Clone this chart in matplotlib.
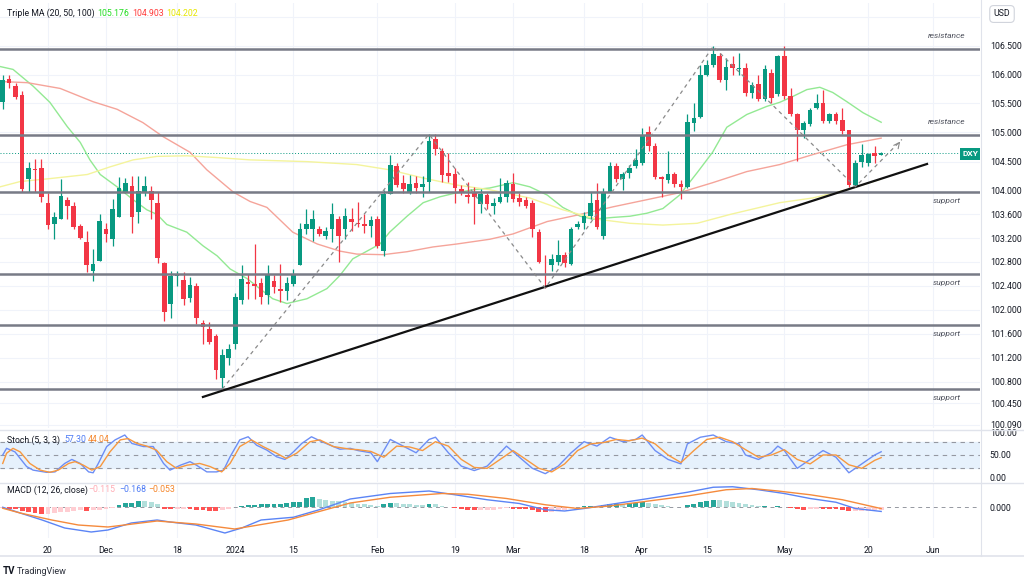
import matplotlib.pyplot as plt
from matplotlib.ticker import FixedLocator, FixedFormatter, NullLocator
import numpy as np
import pandas as pd

plt.rcParams['font.family'] = ['Roboto', 'DejaVu Sans']

# daily DXY candles, 9 Nov 2023 .. 22 May 2024
opens = [105.53, 105.93, 105.80, 105.64, 104.20, 104.37, 104.39, 103.80, 103.44, 103.53,
         103.84, 103.74, 103.41, 103.13, 102.65, 102.82, 103.35, 103.18, 103.55, 103.99,
         104.09, 103.64, 103.97, 104.00, 103.80, 102.78, 102.10, 102.56, 102.49, 102.20,
         102.39, 101.77, 101.67, 101.56, 100.86, 101.20, 101.42, 102.16, 102.46, 102.42,
         102.44, 102.24, 102.48, 102.34, 102.31, 102.43, 102.74, 103.36, 103.36, 103.36,
         103.24, 103.35, 103.52, 103.35, 103.52, 103.46, 103.43, 103.40, 103.52, 102.99,
         103.95, 104.42, 104.13, 103.97, 104.13, 104.06, 104.16, 104.88, 104.68, 104.31,
         104.29, 104.03, 103.93, 103.96, 103.78, 103.93, 103.75, 103.82, 103.90, 104.12,
         103.88, 103.85, 103.80, 103.30, 102.75, 102.74, 102.80, 102.92, 102.77, 103.39,
         103.46, 103.57, 103.84, 103.24, 103.99, 104.43, 104.20, 104.31, 104.42, 104.48,
         105.00, 104.76, 104.24, 104.19, 104.29, 104.12, 104.07, 105.17, 105.26, 106.00,
         106.17, 106.32, 105.91, 106.18, 106.10, 106.12, 105.68, 105.83, 105.57, 106.03,
         105.66, 106.32, 105.63, 105.31, 105.05, 105.15, 105.43, 105.51, 105.19, 105.31,
         105.21, 105.04, 104.10, 104.50, 104.48, 104.64, 104.62]
highs = [106.00, 106.00, 105.86, 105.72, 104.50, 104.55, 104.55, 103.96, 103.65, 104.20,
         103.89, 103.82, 103.43, 103.32, 103.02, 103.60, 103.46, 103.86, 104.24, 104.22,
         104.25, 104.25, 104.26, 104.09, 103.99, 102.79, 102.64, 102.64, 102.62, 102.55,
         102.45, 101.82, 101.79, 101.60, 101.35, 101.43, 102.27, 102.74, 102.60, 103.10,
         102.52, 102.74, 102.57, 102.77, 102.55, 102.68, 103.46, 103.70, 103.68, 103.41,
         103.38, 103.79, 103.57, 103.71, 103.71, 103.82, 103.60, 103.57, 103.57, 104.02,
         104.62, 104.48, 104.28, 104.28, 104.25, 104.26, 104.97, 104.97, 104.74, 104.65,
         104.39, 104.10, 104.16, 104.07, 104.04, 103.96, 103.88, 104.22, 104.19, 104.30,
         103.96, 103.89, 103.85, 103.35, 102.91, 102.93, 103.16, 102.96, 103.39, 103.49,
         103.65, 103.99, 104.13, 104.05, 104.49, 104.48, 104.33, 104.45, 104.72, 105.08,
         105.11, 104.82, 104.25, 104.69, 104.33, 104.19, 105.31, 105.51, 106.17, 106.26,
         106.49, 106.37, 106.29, 106.32, 106.37, 106.20, 105.88, 106.00, 106.17, 106.09,
         106.34, 106.49, 105.77, 105.34, 105.20, 105.43, 105.66, 105.74, 105.34, 105.36,
         105.43, 105.05, 104.52, 104.80, 104.65, 104.76, 104.67]
lows = [105.40, 105.76, 105.58, 103.98, 103.98, 103.99, 103.82, 103.36, 103.18, 103.53,
        103.53, 103.36, 103.18, 102.63, 102.47, 102.82, 103.13, 103.07, 103.55, 103.96,
        103.28, 103.45, 103.92, 103.52, 102.78, 101.80, 101.86, 102.39, 102.07, 102.13,
        101.75, 101.43, 101.42, 100.84, 100.68, 101.07, 101.35, 102.10, 102.18, 102.18,
        102.10, 102.10, 102.27, 102.13, 102.16, 102.40, 102.74, 103.27, 103.15, 103.24,
        103.18, 103.13, 102.79, 103.18, 103.32, 103.38, 103.29, 103.21, 103.04, 102.90,
        103.95, 104.07, 103.96, 103.95, 103.96, 103.89, 103.99, 104.62, 104.16, 104.16,
        103.79, 103.93, 103.79, 103.43, 103.63, 103.70, 103.60, 103.79, 103.82, 103.82,
        103.74, 103.71, 103.21, 102.78, 102.36, 102.65, 102.74, 102.71, 102.75, 103.35,
        103.35, 103.52, 103.35, 103.18, 103.99, 104.16, 104.02, 104.22, 104.39, 104.45,
        104.68, 104.20, 103.90, 104.13, 104.07, 103.87, 104.05, 105.02, 105.25, 105.97,
        106.14, 105.88, 105.74, 106.00, 106.00, 105.63, 105.60, 105.54, 105.54, 105.51,
        105.63, 105.57, 105.28, 104.51, 104.91, 105.11, 105.40, 105.17, 105.17, 105.15,
        104.97, 104.07, 104.07, 104.40, 104.42, 104.48, 104.61]
closes = [105.91, 105.86, 105.62, 104.03, 104.39, 104.36, 103.90, 103.42, 103.55, 103.92,
          103.75, 103.39, 103.20, 102.74, 102.77, 103.49, 103.27, 103.70, 104.05, 104.13,
          103.55, 104.00, 104.09, 103.85, 102.87, 101.96, 102.56, 102.60, 102.17, 102.41,
          101.85, 101.70, 101.46, 100.99, 101.24, 101.35, 102.21, 102.51, 102.43, 102.39,
          102.21, 102.57, 102.37, 102.31, 102.44, 102.60, 103.35, 103.44, 103.53, 103.27,
          103.32, 103.60, 103.23, 103.57, 103.47, 103.43, 103.40, 103.50, 103.06, 103.95,
          104.45, 104.10, 104.03, 104.12, 104.05, 104.12, 104.85, 104.71, 104.28, 104.26,
          104.05, 103.96, 103.89, 103.90, 103.95, 103.78, 103.80, 103.90, 104.14, 103.87,
          103.82, 103.75, 103.35, 102.79, 102.74, 102.85, 102.92, 102.78, 103.36, 103.44,
          103.57, 103.79, 103.38, 103.96, 104.43, 104.20, 104.29, 104.39, 104.53, 104.94,
          104.76, 104.23, 104.20, 104.29, 104.12, 104.07, 105.18, 105.25, 106.00, 106.17,
          106.36, 105.91, 106.14, 106.12, 106.12, 105.68, 105.82, 105.57, 106.09, 105.60,
          106.32, 105.63, 105.31, 105.05, 105.17, 105.38, 105.50, 105.19, 105.31, 105.19,
          105.02, 104.10, 104.48, 104.62, 104.63, 104.60, 104.65]

# moving averages, sampled along the drawn lines (bar index, price)
ma20_x = [-0.4, 1.6, 4.7, 7.3, 10.0, 12.0, 13.5, 15.1, 17.7, 20.2, 22.3, 23.9, 25.4, 28.5,
          31.0, 33.2, 35.2, 37.8, 39.8, 41.8, 44.0, 47.1, 50.2, 52.2, 54.2, 56.4, 58.4,
          59.9, 62.6, 65.1, 67.7, 70.3, 72.8, 75.4, 79.0, 81.6, 84.3, 86.7, 89.4, 91.4,
          94.5, 97.1, 99.7, 102.2, 104.8, 107.5, 109.9, 112.1, 115.2, 118.3, 120.3, 122.3,
          124.5, 126.5, 128.5, 130.7, 133.2, 136.0]
ma20_y = [106.14, 106.09, 105.80, 105.52, 105.10, 104.83, 104.53, 104.28, 104.07, 103.85,
          103.68, 103.60, 103.43, 103.30, 103.07, 102.90, 102.68, 102.52, 102.35, 102.18,
          102.10, 102.18, 102.35, 102.57, 102.85, 102.98, 103.10, 103.30, 103.57, 103.80,
          103.90, 103.97, 104.02, 104.05, 104.14, 104.07, 103.93, 103.72, 103.57, 103.52,
          103.55, 103.57, 103.62, 103.70, 103.93, 104.31, 104.66, 105.09, 105.31, 105.45,
          105.52, 105.62, 105.74, 105.78, 105.69, 105.53, 105.34, 105.176]
ma50_x = [-0.4, 3.8, 8.9, 14.0, 17.7, 21.7, 24.8, 29.0, 31.6, 35.7, 38.3, 40.9, 44.9, 48.7,
          52.2, 54.8, 58.9, 62.6, 66.6, 70.3, 75.4, 79.0, 84.3, 89.4, 94.5, 99.7, 104.8,
          109.9, 115.2, 120.3, 125.4, 130.7, 136.0]
ma50_y = [105.88, 105.86, 105.76, 105.53, 105.40, 105.17, 104.93, 104.66, 104.36, 103.98,
          103.82, 103.72, 103.30, 103.10, 102.98, 102.93, 102.92, 102.97, 103.05, 103.10,
          103.18, 103.27, 103.48, 103.60, 103.73, 103.85, 103.97, 104.14, 104.33, 104.45,
          104.62, 104.79, 104.903]
ma100_x = [-0.4, 2.7, 7.3, 13.1, 16.6, 20.2, 23.9, 28.5, 33.2, 38.3, 47.1, 54.8, 59.9,
           65.1, 70.3, 75.4, 81.6, 86.7, 92.0, 97.1, 102.2, 107.5, 112.6, 120.3, 125.4,
           130.7, 136.0]
ma100_y = [104.07, 104.16, 104.21, 104.28, 104.41, 104.53, 104.59, 104.60, 104.57, 104.53,
           104.50, 104.45, 104.36, 104.22, 104.10, 104.02, 103.88, 103.68, 103.52, 103.45,
           103.42, 103.45, 103.60, 103.80, 103.88, 104.02, 104.202]

# drawings
levels = [106.45, 104.95, 103.98, 102.60, 101.74, 100.68]
level_names = ['resistance', 'resistance', 'support', 'support', 'support', 'support']
trend_x = [31.0, 143.1]
trend_y = [100.55, 104.46]
zigzag_x = [34, 66, 84, 110, 132, 139.2]
zigzag_y = [100.68, 104.97, 102.36, 106.49, 104.07, 104.88]
last_price = 104.65

# Stochastic (5, 3, 3)
k_x = [0, 0.6, 1.9, 3.7, 4.7, 6.8, 8.1, 9.6, 10.7, 12, 13.3, 14, 14.8, 16.1, 17.4, 18.9,
       20, 21.8, 23.3, 24.9, 25.9, 27.5, 29, 30, 31.6, 33.1, 34.2, 35.2, 36.7, 38, 39.3,
       40.9, 42.4, 43.7, 45, 46.3, 47.8, 49.1, 50.7, 52.2, 53.8, 55, 57, 58, 60, 62, 64,
       66, 67, 69, 71, 73, 75, 77, 78, 80, 82, 84, 86, 88, 90, 92, 94, 96, 98, 99, 101,
       103, 105, 106, 108, 110, 112, 114, 115, 117, 119, 120, 121, 123, 125, 127, 129,
       131, 133, 135, 136]
k_y = [50, 65, 57, 24, 16, 11, 12, 31, 40, 31, 12, 10, 31, 69, 84, 95, 76, 69, 69, 31, 16,
       27, 35, 27, 12, 12, 16, 46, 84, 91, 72, 61, 46, 40, 57, 76, 91, 82, 72, 63, 65, 60,
       55, 35, 85, 70, 55, 85, 90, 55, 25, 15, 25, 55, 70, 45, 20, 8, 25, 55, 80, 70, 90,
       80, 85, 95, 60, 40, 30, 75, 90, 95, 80, 75, 50, 40, 55, 70, 60, 20, 40, 60, 45, 10,
       30, 50, 57.30]
d_x = [0, 0.6, 1.6, 2.7, 4.2, 5.8, 7.3, 8.6, 10.2, 11.2, 12.5, 13.8, 15.1, 16.6, 18.2,
       19.4, 20.8, 22.3, 23.8, 25.4, 26.9, 28.5, 30.5, 32.1, 33.9, 35.2, 36.7, 38.5, 40.3,
       42.4, 43.9, 45.5, 47.6, 49.1, 51.2, 53.8, 55, 57, 59, 61, 63, 65, 67, 69, 71, 73,
       75, 77, 79, 81, 83, 85, 87, 89, 91, 93, 95, 97, 99, 101, 103, 105, 107, 109, 111,
       113, 115, 117, 119, 121, 123, 125, 127, 129, 131, 133, 135, 136]
d_y = [31, 54, 65, 57, 31, 16, 11, 16, 31, 35, 27, 16, 24, 57, 84, 87, 76, 70, 61, 35, 20,
       27, 31, 24, 12, 31, 69, 84, 69, 54, 42, 54, 80, 84, 69, 63, 62, 58, 45, 70, 68, 60,
       80, 70, 40, 22, 20, 40, 60, 40, 20, 12, 30, 60, 75, 78, 85, 82, 88, 75, 50, 33, 60,
       85, 90, 80, 62, 45, 50, 62, 40, 30, 50, 50, 28, 20, 38, 44.04]

# MACD (12, 26, close)
macd_x = [0, 2.7, 6.1, 9.6, 13.7, 16.3, 19.9, 23.9, 25.9, 29.9, 34.4, 37, 40, 45, 49, 53.8,
          60, 66, 70, 75, 80, 84, 87, 90, 95, 100, 106, 110, 113, 117, 121, 125, 129, 132,
          136]
macd_y = [0.0, -0.23, -0.51, -0.83, -0.99, -0.91, -0.63, -0.51, -0.59, -0.71, -1.03, -0.83,
          -0.51, -0.40, -0.10, 0.33, 0.55, 0.65, 0.50, 0.30, 0.15, -0.10, -0.15, -0.05, 0.15,
          0.35, 0.60, 0.80, 0.82, 0.70, 0.55, 0.35, 0.20, -0.05, -0.168]
signal_x = [0, 2.7, 7.6, 11.7, 16.3, 23.9, 29.9, 35.9, 44.2, 53.8, 60, 68, 72, 78, 84, 89,
            94, 100, 106, 112, 116, 120, 125, 130, 136]
signal_y = [-0.04, -0.23, -0.51, -0.71, -0.79, -0.55, -0.67, -0.87, -0.51, 0.17, 0.40, 0.55,
            0.52, 0.35, 0.10, -0.05, 0.05, 0.25, 0.45, 0.70, 0.75, 0.65, 0.50, 0.30, -0.053]
hist = [-0.04, -0.05, -0.08, -0.15, -0.20, -0.24, -0.27, -0.26, -0.24, -0.20, -0.17, -0.14,
        -0.12, -0.15, -0.12, -0.09, -0.06, -0.03, 0.09, 0.16, 0.19, 0.27, 0.27, 0.20, 0.12,
        -0.05, -0.08, -0.07, -0.05, -0.08, -0.10, -0.12, -0.14, -0.15, -0.10, -0.05, 0.03,
        0.06, 0.08, 0.10, 0.12, 0.13, 0.14, 0.15, 0.17, 0.20, 0.23, 0.37, 0.40, 0.33, 0.30,
        0.27, 0.25, 0.22, 0.18, 0.15, 0.12, 0.08, 0.05, 0.12, 0.18, 0.17, 0.14, 0.12, 0.10,
        0.08, 0.14, 0.12, 0.06, 0.02, -0.03, -0.07, -0.10, -0.12, -0.12, -0.11, -0.10, -0.07,
        -0.04, -0.05, -0.06, -0.08, -0.12, -0.18, -0.20, -0.17, -0.13, -0.10, -0.04, 0.0,
        0.04, 0.07, 0.06, 0.10, 0.14, 0.15, 0.15, 0.16, 0.17, 0.20, 0.18, 0.12, 0.08, 0.05,
        0.03, 0.02, 0.10, 0.15, 0.22, 0.27, 0.30, 0.28, 0.25, 0.22, 0.18, 0.12, 0.08, 0.05,
        0.06, 0.02, 0.06, 0.02, -0.04, -0.08, -0.09, -0.07, -0.05, -0.06, -0.07, -0.08,
        -0.10, -0.16, -0.16, -0.14, -0.13, -0.12, -0.115]

price_ticks = [106.5, 106.0, 105.5, 105.0, 104.5, 104.0, 103.6, 103.2, 102.8, 102.4, 102.0,
               101.6, 101.2, 100.8, 100.45, 100.09]
date_ticks = ['2023-11-20', '2023-12-01', '2023-12-18', '2024-01-02', '2024-01-15',
              '2024-02-01', '2024-02-19', '2024-03-01', '2024-03-18', '2024-04-01',
              '2024-04-15', '2024-05-01', '2024-05-20', '2024-06-03']
date_labels = ['20', 'Dec', '18', '2024', '15', 'Feb', '19', 'Mar', '18', 'Apr', '15',
               'May', '20', 'Jun']

# trading calendar (weekdays without the market holidays on the chart)
days = pd.bdate_range('2023-11-09', '2024-06-14')
days = days.drop(pd.to_datetime(['2023-12-25', '2024-01-01', '2024-03-29']))
tick_pos = [days.get_loc(pd.Timestamp(d)) for d in date_ticks]

UP, DOWN = '#089981', '#f23645'
GRID = '#f0f3fa'
TXT = '#131722'
W, H = 1024, 578
XL = (-0.42, 151.3)


def px_axes(fig, top, bottom, right=980):
    return fig.add_axes([0, (H - bottom) / H, right / W, (bottom - top) / H])


def fpos(x, y):
    return x / W, 1 - y / H


fig = plt.figure(figsize=(W / 100, H / 100), dpi=100)
fig.patch.set_facecolor('white')

ax = px_axes(fig, 3, 428)
ax_st = px_axes(fig, 430, 482)
ax_m = px_axes(fig, 483, 538)

for a in (ax, ax_st, ax_m):
    a.set_xlim(*XL)
    for s in a.spines.values():
        s.set_visible(False)
    a.yaxis.tick_right()
    a.tick_params(axis='y', length=0, pad=7, labelsize=6.3, labelcolor=TXT)
    a.tick_params(axis='x', length=0)
    a.set_xticks(tick_pos)
    a.set_xticklabels([])
    for t in tick_pos:
        a.axvline(t, color=GRID, lw=0.8, zorder=0)

# ---- price pane
ax.set_yscale('log')
ax.set_ylim(100.04, 107.25)
ax.yaxis.set_major_locator(FixedLocator(price_ticks))
ax.yaxis.set_major_formatter(FixedFormatter([f'{v:.3f}' for v in price_ticks]))
ax.yaxis.set_minor_locator(NullLocator())
for v in price_ticks + [107.0]:
    ax.axhline(v, color=GRID, lw=0.8, zorder=0)

idx = np.arange(len(closes))
o, h, l, c = map(np.array, (opens, highs, lows, closes))
col = np.where(c >= o, UP, DOWN)
ax.vlines(idx, l, h, colors=col, lw=0.9, zorder=3)
body_lo = np.minimum(o, c)
body_h = np.maximum(np.abs(c - o), 0.012)
ax.bar(idx, body_h, bottom=body_lo, width=0.72, color=col, zorder=4)

ax.plot(ma20_x, ma20_y, color='#93e993', lw=1.0, zorder=2)
ax.plot(ma50_x, ma50_y, color='#f5a49a', lw=1.0, zorder=2)
ax.plot(ma100_x, ma100_y, color='#f4f49c', lw=1.0, zorder=2)

for lv, name in zip(levels, level_names):
    ax.axhline(lv, color='#787b86', lw=1.8, zorder=5)
    dy = 9.5 if name == 'resistance' else -6.5
    ax.annotate(name, (146.2, lv), xytext=(0, dy), textcoords='offset points',
                ha='center', va='center', fontsize=6, style='italic', color='#50535e')

ax.plot(trend_x, trend_y, color='#111111', lw=1.6, zorder=6)
ax.plot(zigzag_x, zigzag_y, color='#8a8a8a', lw=0.9, ls=(0, (3, 3)), zorder=6)
ax.annotate('', xy=(zigzag_x[-1], zigzag_y[-1]), xytext=(zigzag_x[-2] + 6.5, 104.78),
            arrowprops=dict(arrowstyle='->', color='#8a8a8a', lw=0.8))
ax.axhline(last_price, color=UP, lw=0.7, ls=(0, (1, 2)), zorder=1)

# ---- stochastic pane
ax_st.set_ylim(-10.75, 106.25)
ax_st.axhspan(20, 80, color='#e6f1fc', zorder=0)
for v in (80, 50, 20):
    ax_st.axhline(v, color='#9598a1', lw=0.8, ls=(0, (4, 4)), zorder=1)
ax_st.plot(k_x, k_y, color='#6d8ef5', lw=1.0, zorder=3)
ax_st.plot(d_x, d_y, color='#f7983f', lw=1.0, zorder=3)
ax_st.set_yticks([0, 50, 100])
ax_st.set_yticklabels(['0.00', '50.00', '100.00'])

# ---- MACD pane
ax_m.set_ylim(-1.23, 0.97)
hcol = []
for i, v in enumerate(hist):
    prev = hist[i - 1] if i > 0 else v
    if v >= 0:
        hcol.append('#26a69a' if v > prev else '#b2dfdb')
    else:
        hcol.append('#ff5252' if v < prev else '#ffcdd2')
ax_m.bar(idx, hist, width=0.75, color=hcol, zorder=2)
ax_m.axhline(0, color='#9598a1', lw=0.7, ls=(0, (4, 4)), zorder=1)
ax_m.plot(macd_x, macd_y, color='#5b84f5', lw=1.0, zorder=3)
ax_m.plot(signal_x, signal_y, color='#f58a3c', lw=1.0, zorder=3)
ax_m.set_yticks([0])
ax_m.set_yticklabels(['0.000'])
ax_m.set_xticklabels(date_labels)
ax_m.tick_params(axis='x', pad=6, labelsize=6.3, labelcolor=TXT)

# ---- frame, separators, legends
sep = '#e0e3eb'
fig.add_artist(plt.Line2D([0, 1], [1 - 429.5 / H] * 2, color=sep, lw=1))
fig.add_artist(plt.Line2D([0, 1], [1 - 482.5 / H] * 2, color=sep, lw=1))
fig.add_artist(plt.Line2D([0, 1], [1 - 556 / H] * 2, color=sep, lw=1.2))
fig.add_artist(plt.Line2D([980.5 / W] * 2, [1 - 556 / H, 1], color=sep, lw=0.8))

fig.text(*fpos(7, 13), 'Triple MA (20, 50, 100)', fontsize=6.3, color=TXT, va='center')
fig.text(*fpos(97, 13), '105.176', fontsize=6.3, color='#22dd22', va='center')
fig.text(*fpos(132, 13), '104.903', fontsize=6.3, color='#ff3b3b', va='center')
fig.text(*fpos(166, 13), '104.202', fontsize=6.3, color='#e6e600', va='center')

fig.text(*fpos(7, 440), 'Stoch (5, 3, 3)', fontsize=6.3, color=TXT, va='center')
fig.text(*fpos(64, 440), '57.30', fontsize=6.3, color='#4f7cf5', va='center')
fig.text(*fpos(88, 440), '44.04', fontsize=6.3, color='#f5862b', va='center')

fig.text(*fpos(7, 490), 'MACD (12, 26, close)', fontsize=6.3, color=TXT, va='center')
fig.text(*fpos(88, 490), '\u22120.115', fontsize=6.3, color='#ffadb5', va='center')
fig.text(*fpos(119, 490), '\u22120.168', fontsize=6.3, color='#4f7cf5', va='center')
fig.text(*fpos(148, 490), '\u22120.053', fontsize=6.3, color='#f5862b', va='center')

fig.text(*fpos(1002, 14), 'USD', fontsize=6.3, color=TXT, ha='center', va='center',
         bbox=dict(boxstyle='round,pad=0.45', fc='white', ec='#d1d4dc', lw=0.8))
fig.text(*fpos(970, 154), 'DXY', fontsize=6, color='white', ha='center', va='center',
         fontweight='bold', bbox=dict(boxstyle='square,pad=0.3', fc=UP, ec='none'))

fig.text(*fpos(3, 571), 'TV', fontsize=7, fontweight='bold', color=TXT, va='center')
fig.text(*fpos(17, 571), 'TradingView', fontsize=6.5, color='#2a2e39', va='center')

fig.savefig('out.png', dpi=100, facecolor='white')
